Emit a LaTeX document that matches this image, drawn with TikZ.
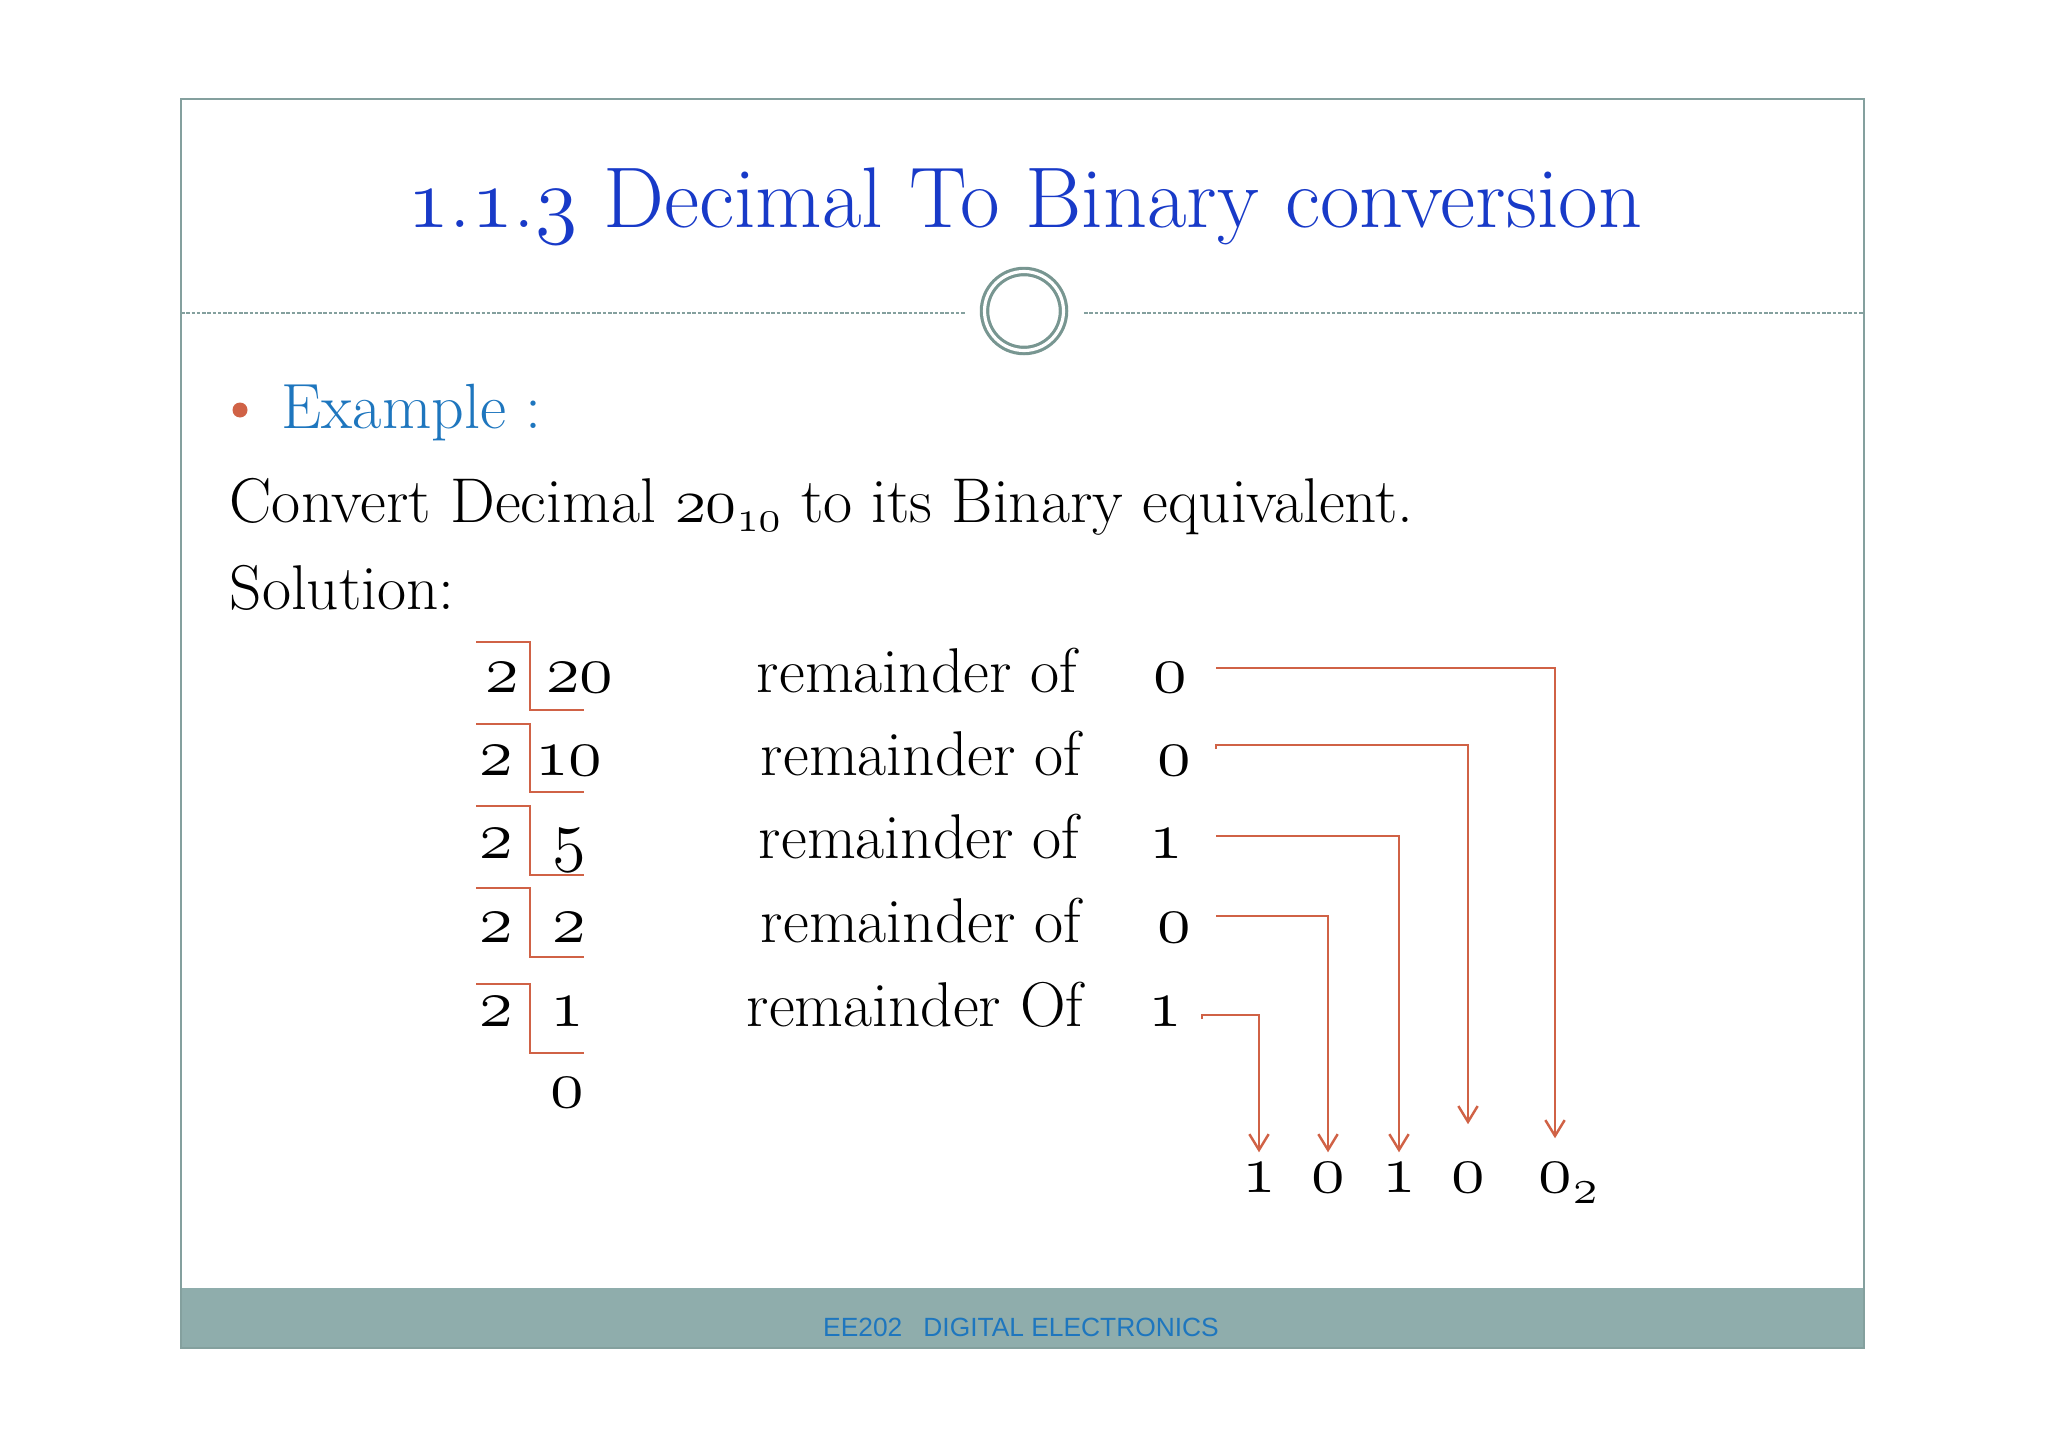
\RequirePackage{fix-cm}
\documentclass[tikz,border=0pt]{standalone}
\usepackage{fontspec}
\newfontfamily\footfont{Liberation Sans}
\usetikzlibrary{arrows.meta}

\definecolor{titleblue}{RGB}{24,58,200}
\definecolor{exblue}{RGB}{30,118,190}
\definecolor{linered}{RGB}{208,98,70}
\definecolor{framegray}{RGB}{132,160,158}
\definecolor{bandgray}{RGB}{143,173,172}
\definecolor{ringgray}{RGB}{120,150,145}

% old style figures from the math italic font
\newcommand{\osn}[1]{{\usefont{OML}{cmm}{m}{it}#1}}

\tikzstyle{digit} = [inner sep=0pt, anchor=base, font=\fontsize{19.5}{22}\selectfont]
\tikzstyle{remtext} = [inner sep=0pt, anchor=base, font=\fontsize{18}{20}\selectfont]
\tikzstyle{bodytext} = [inner sep=0pt, anchor=base west, font=\fontsize{18}{20}\selectfont]
\tikzstyle{bracket} = [draw=linered, line width=0.6pt]
\tikzstyle{conn} = [draw=linered, line width=0.7pt, ->]

\begin{document}
\begin{tikzpicture}[x=0.1mm,y=-0.1mm,>={Straight Barb[length=4.5pt,width=5.5pt]}]
  \useasboundingbox (0,0) rectangle (2048,1448);

  % slide frame, footer band, header rule
  \fill[bandgray] (181,1288) rectangle (1864,1348);
  \draw[framegray, line width=0.6pt] (181,99) rectangle (1864,1348);
  \draw[framegray, line width=0.5pt, dash pattern=on 1pt off 0.5pt]
    (181,313) -- (966,313) (1084,313) -- (1864,313);
  \draw[ringgray, line width=0.9pt, double=white, double distance=0.9pt] (1024,311) circle (39.5);

  \node[inner sep=0pt, anchor=base, text=titleblue, font=\fontsize{24.5}{28}\selectfont]
    (title) at (1025,228) {\osn{1}.\osn{1}.\osn{3} Decimal To Binary conversion};
  \node[inner sep=0pt, anchor=base, text=exblue, font=\footfont\fontsize{7.5}{9}\selectfont]
    (foot) at (1021,1336) {EE202\hspace{0.8em}DIGITAL ELECTRONICS};

  \fill[linered] (240,410) circle (7.5);
  \node[bodytext, text=exblue, font=\fontsize{18.2}{21}\selectfont] (example) at (281,428) {Example :};
  \node[bodytext] (task) at (229,522)
    {Convert Decimal \osn{20}\textsubscript{\osn{10}} to its Binary equivalent.};
  \node[bodytext] (sol) at (229,609) {Solution:};

  % divisions
  \node[digit] (d1) at (502,692)  {\osn{2}};
  \node[digit] (q1) at (580,692)  {\osn{20}};
  \node[digit] (d2) at (496,775)  {\osn{2}};
  \node[digit] (q2) at (569,775)  {\osn{10}};
  \node[digit] (d3) at (496,858)  {\osn{2}};
  \node[digit] (q3) at (569,858)  {\osn{5}};
  \node[digit] (d4) at (496,942)  {\osn{2}};
  \node[digit] (q4) at (569,942)  {\osn{2}};
  \node[digit] (d5) at (496,1026) {\osn{2}};
  \node[digit] (q5) at (567,1026) {\osn{1}};
  \node[digit] (q6) at (567,1107) {\osn{0}};

  \draw[bracket] (476,642) -| (530,710) -- (584,710);
  \draw[bracket] (476,724) -| (530,792) -- (584,792);
  \draw[bracket] (476,806) -| (530,875) -- (584,875);
  \draw[bracket] (476,888) -| (530,957) -- (584,957);
  \draw[bracket] (476,984) -| (530,1053) -- (584,1053);

  \node[remtext] (rem1) at (917,692)  {remainder of};
  \node[remtext] (rem2) at (921,775)  {remainder of};
  \node[remtext] (rem3) at (919,858)  {remainder of};
  \node[remtext] (rem4) at (921,942)  {remainder of};
  \node[remtext] (rem5) at (915,1026) {remainder Of};

  \node[digit] (r1) at (1170,692)  {\osn{0}};
  \node[digit] (r2) at (1174,775)  {\osn{0}};
  \node[digit] (r3) at (1166,858)  {\osn{1}};
  \node[digit] (r4) at (1174,942)  {\osn{0}};
  \node[digit] (r5) at (1165,1026) {\osn{1}};

  % result bits
  \node[digit] (b1) at (1259,1192) {\osn{1}};
  \node[digit] (b2) at (1328,1192) {\osn{0}};
  \node[digit] (b3) at (1399,1192) {\osn{1}};
  \node[digit] (b4) at (1468,1192) {\osn{0}};
  \node[digit] (b5) at (1555,1192) {\osn{0}};
  \node[inner sep=0pt, anchor=base west, font=\fontsize{14}{16}\selectfont]
    (base2) at (1573,1203) {\osn{2}};

  \coordinate (s1) at (1216,668);
  \coordinate (s2) at (1216,749);
  \coordinate (s3) at (1216,836);
  \coordinate (s4) at (1216,916);
  \coordinate (s5) at (1202,1019);

  \draw[conn, shorten >=6.7pt] (s1) -| (b5.north);
  \draw[conn, shorten >=10.7pt] (s2) -- ++(0,-4) -| (b4.north);
  \draw[conn, shorten >=2.7pt] (s3) -| (b3.north);
  \draw[conn, shorten >=2.7pt] (s4) -| (b2.north);
  \draw[conn, shorten >=2.7pt] (s5) -- ++(0,-4) -| (b1.north);
\end{tikzpicture}
\end{document}
